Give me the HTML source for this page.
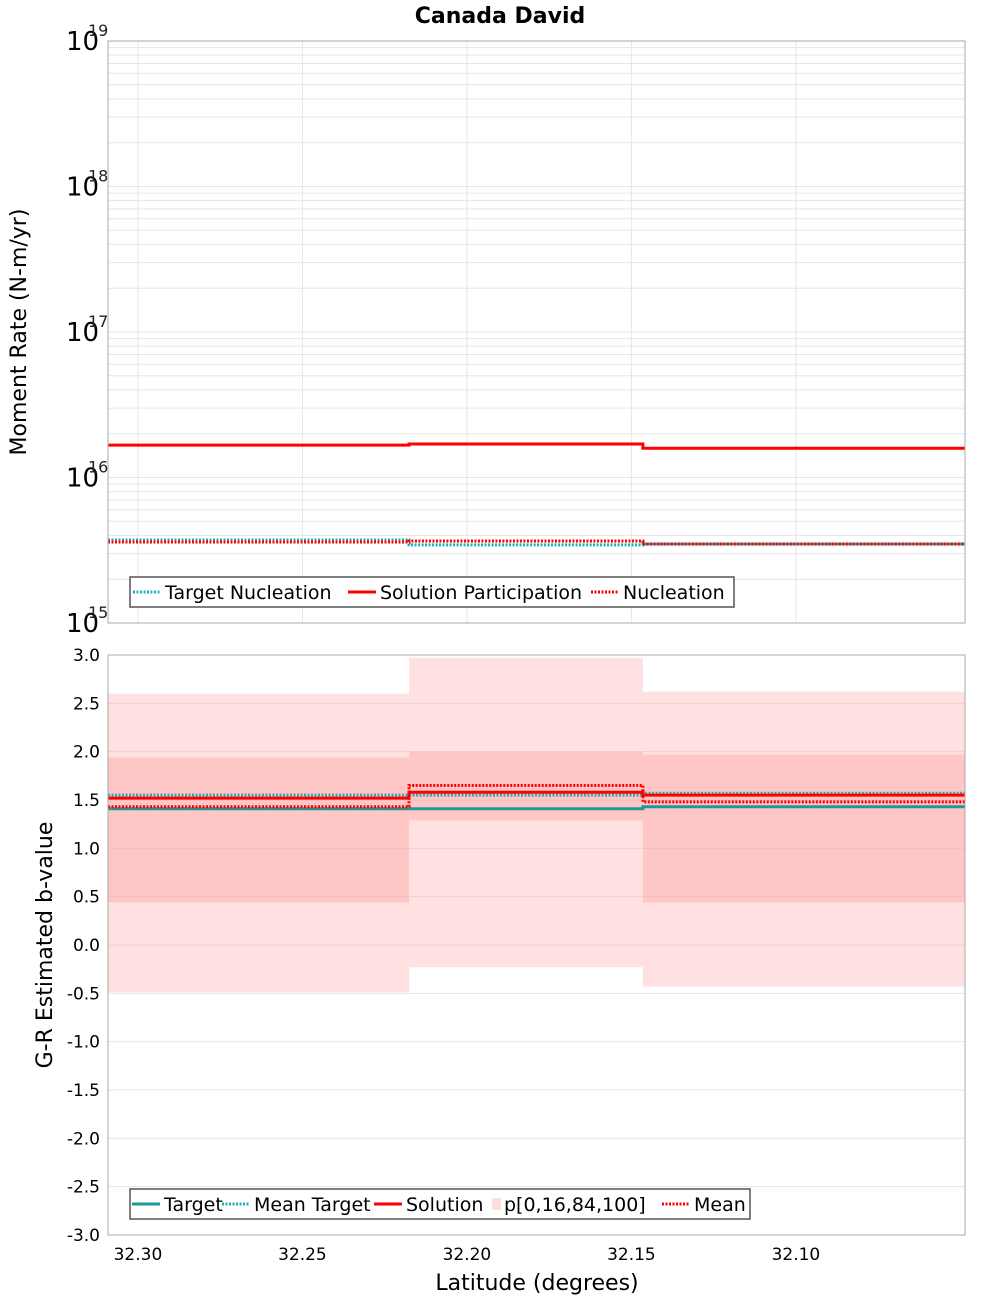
<!DOCTYPE html>
<html><head><meta charset="utf-8"><style>
body{margin:0;background:#fff}
svg{font-family:"DejaVu Sans","Liberation Sans",sans-serif}
</style></head><body>
<svg id="c" width="1000" height="1300" xmlns="http://www.w3.org/2000/svg">
<text x="500" y="23" text-anchor="middle" font-size="22" font-weight="bold">Canada David</text>
<g id="topPanel"></g>
<g id="botPanel"></g>
<text transform="translate(26,332) rotate(-90)" text-anchor="middle" font-size="22">Moment Rate (N-m/yr)</text>
<text transform="translate(52,945) rotate(-90)" text-anchor="middle" font-size="22">G-R Estimated b-value</text>
<text x="537" y="1290" text-anchor="middle" font-size="22">Latitude (degrees)</text>
</svg>
<script>
const binEdges=[32.3091,32.2176,32.1465,32.0486];
const xTicks=[32.30,32.25,32.20,32.15,32.10];
const solutionPart=[1.67e16,1.70e16,1.59e16];
const nucleation=[3.6e15,3.66e15,3.49e15];
const targetNucl=[3.72e15,3.44e15,3.49e15];
const topDecades=[15,16,17,18,19];
const bTicks=[3.0,2.5,2.0,1.5,1.0,0.5,0.0,-0.5,-1.0,-1.5,-2.0,-2.5,-3.0];
const p0=[-0.49,-0.23,-0.43];
const p16=[0.44,1.29,0.44];
const p84=[1.94,2.00,1.97];
const p100=[2.60,2.97,2.62];
const bTarget=[1.41,1.41,1.43];
const bMeanTarget=[1.55,1.55,1.57];
const bSolution=[1.52,1.58,1.55];
const bMean=[1.43,1.65,1.48];

const NS="http://www.w3.org/2000/svg";
const L=108,R=965;
const x=v=>L+(binEdges[0]-v)/(binEdges[0]-binEdges[3])*(R-L);
const T0=41,T1=623;
const yt=v=>T1-(Math.log10(v)-15)/4*(T1-T0);
const B0=655,B1=1235;
const yb=v=>B0+(3-v)/6*(B1-B0);
function mk(p,tag,a){const e=document.createElementNS(NS,tag);for(const k in a)e.setAttribute(k,a[k]);p.appendChild(e);return e;}
const topG=document.getElementById('topPanel'),botG=document.getElementById('botPanel');
mk(topG,'rect',{x:L,y:T0,width:R-L,height:T1-T0,fill:'#fff'});
for(let d=15;d<19;d++)for(let m=1;m<=9;m++){const yy=yt(m*Math.pow(10,d));
 const g=mk(topG,'line',{x1:L,x2:R,y1:yy,y2:yy,stroke:'#e6e6e6','stroke-width':1});
 
 }
xTicks.forEach(t=>{for(const [p,a,b] of [[topG,T0,T1],[botG,B0,B1]]){const g=mk(p,'line',{x1:x(t),x2:x(t),y1:a,y2:b,stroke:'#e6e6e6'});
 
 }});
topDecades.forEach(d=>{const yy=yt(Math.pow(10,d));
 const t=mk(topG,'text',{x:66,y:yy+9,'font-size':26});t.textContent='10';
 
 
 const s=mk(topG,'text',{x:88,y:yy-5,'font-size':16,fill:'#222'});s.textContent=String(d);
 
 });
function step(p,vals,yf,color,w,dash,name){
 let d='';vals.forEach((v,i)=>{d+=(i?'L':'M')+x(binEdges[i])+','+yf(v)+'L'+x(binEdges[i+1])+','+yf(v);});
 const e=mk(p,'path',{d:d,fill:'none',stroke:color,'stroke-width':w});if(dash)e.setAttribute('stroke-dasharray',dash);
 
 }
step(topG,targetNucl,yt,'#1ab0b8',3,'2,1.5','target-nucleation-line');
step(topG,solutionPart,yt,'#f00',3,null,'solution-participation-line');
step(topG,nucleation,yt,'#f00',3,'2,1.5','nucleation-line');
mk(topG,'rect',{x:L,y:T0,width:R-L,height:T1-T0,fill:'none',stroke:'#aaa'});
const lg=mk(topG,'g',{});


mk(lg,'rect',{x:130,y:577,width:604,height:30,fill:'#fff',stroke:'#555','stroke-width':1.5});
[[133,'Target Nucleation','#1ab0b8','2,1.5'],[348,'Solution Participation','#f00',null],[591,'Nucleation','#f00','2,1.5']].forEach(([lx,t,c,da])=>{
 const l=mk(lg,'line',{x1:lx,x2:lx+28,y1:592,y2:592,stroke:c,'stroke-width':3});if(da)l.setAttribute('stroke-dasharray',da);
 const tx=mk(lg,'text',{x:lx+32,y:599,'font-size':19});tx.textContent=t;
 
 });
mk(botG,'rect',{x:L,y:B0,width:R-L,height:B1-B0,fill:'#fff'});
bTicks.forEach(t=>{const g=mk(botG,'line',{x1:L,x2:R,y1:yb(t),y2:yb(t),stroke:'#e6e6e6'});
 
 
 const tx=mk(botG,'text',{x:100,y:yb(t)+6,'text-anchor':'end','font-size':17});tx.textContent=t.toFixed(1);
 
 });
for(let i=0;i<3;i++){const x1=x(binEdges[i]),x2=x(binEdges[i+1]);
 const a=mk(botG,'rect',{x:x1,y:yb(p100[i]),width:x2-x1,height:yb(p0[i])-yb(p100[i]),fill:'rgba(255,170,170,0.35)'});
 
 
 const b=mk(botG,'rect',{x:x1,y:yb(p84[i]),width:x2-x1,height:yb(p16[i])-yb(p84[i]),fill:'rgba(255,150,150,0.35)'});
 
 }
step(botG,bTarget,yb,'#1a9a9a',3,null,'target-line');
step(botG,bMeanTarget,yb,'#1ab0b8',3,'2,1.5','mean-target-line');
step(botG,bSolution,yb,'#f00',3,null,'solution-line');
step(botG,bMean,yb,'#f00',3,'2,1.5','mean-line');
mk(botG,'rect',{x:L,y:B0,width:R-L,height:B1-B0,fill:'none',stroke:'#aaa'});
xTicks.forEach(t=>{const tx=mk(botG,'text',{x:x(t),y:1260,'text-anchor':'middle','font-size':17});tx.textContent=t.toFixed(2);
 
 });
const lb=mk(botG,'g',{});


mk(lb,'rect',{x:130,y:1189,width:620,height:30,fill:'#fff',stroke:'#555','stroke-width':1.5});
[[132,'Target','#1a9a9a',null,0],[222,'Mean Target','#1ab0b8','2,1.5',0],[374,'Solution','#f00',null,0],[490,'p[0,16,84,100]','#fdd',null,1],[662,'Mean','#f00','2,1.5',0]].forEach(([lx,t,c,da,box])=>{
 if(box){mk(lb,'rect',{x:lx+2,y:1198,width:9,height:12,fill:c});}
 else{const l=mk(lb,'line',{x1:lx,x2:lx+28,y1:1204,y2:1204,stroke:c,'stroke-width':3});if(da)l.setAttribute('stroke-dasharray',da);}
 const tx=mk(lb,'text',{x:lx+(box?14:32),y:1211,'font-size':19});tx.textContent=t;
 
 });
</script>
</body></html>
